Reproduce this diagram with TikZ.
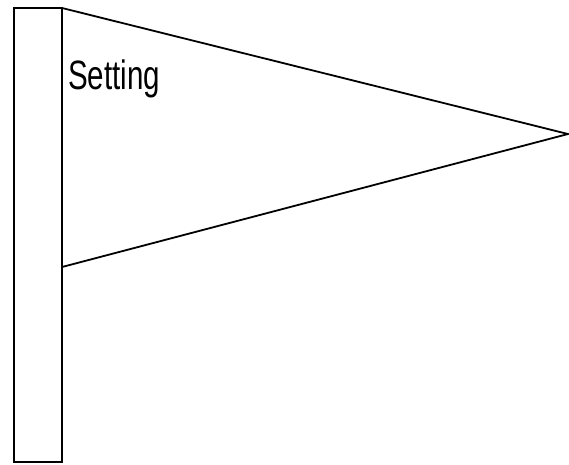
\documentclass[tikz,border=0pt]{standalone}
\usepackage{fontspec}
\setmainfont{Liberation Sans}
\usepackage{tikz}
\tikzstyle{pole} = [draw=black, line width=2pt, fill=white]
\tikzstyle{flag} = [draw=black, line width=1.8pt, line join=miter]
\tikzstyle{label} = [anchor=base west, inner sep=0pt, font=\fontsize{41}{41}\selectfont, xscale=0.72, transform shape]

\begin{document}
\begin{tikzpicture}[x=1pt, y=-1pt]
  \useasboundingbox (0,0) rectangle (569,464);

  % Mast
  \coordinate (mastTL) at (14,8);
  \coordinate (mastBR) at (62,462);
  \draw[pole] (mastTL) rectangle (mastBR);

  % Wimpel
  \coordinate (flagTop) at (62,8);
  \coordinate (flagTip) at (568,134);
  \coordinate (flagBot) at (62,267);
  \draw[flag] (flagTop) -- (flagTip) -- (flagBot);

  % Beschriftung
  \node[label] (setting) at (68,89) {Setting};
\end{tikzpicture}
\end{document}
